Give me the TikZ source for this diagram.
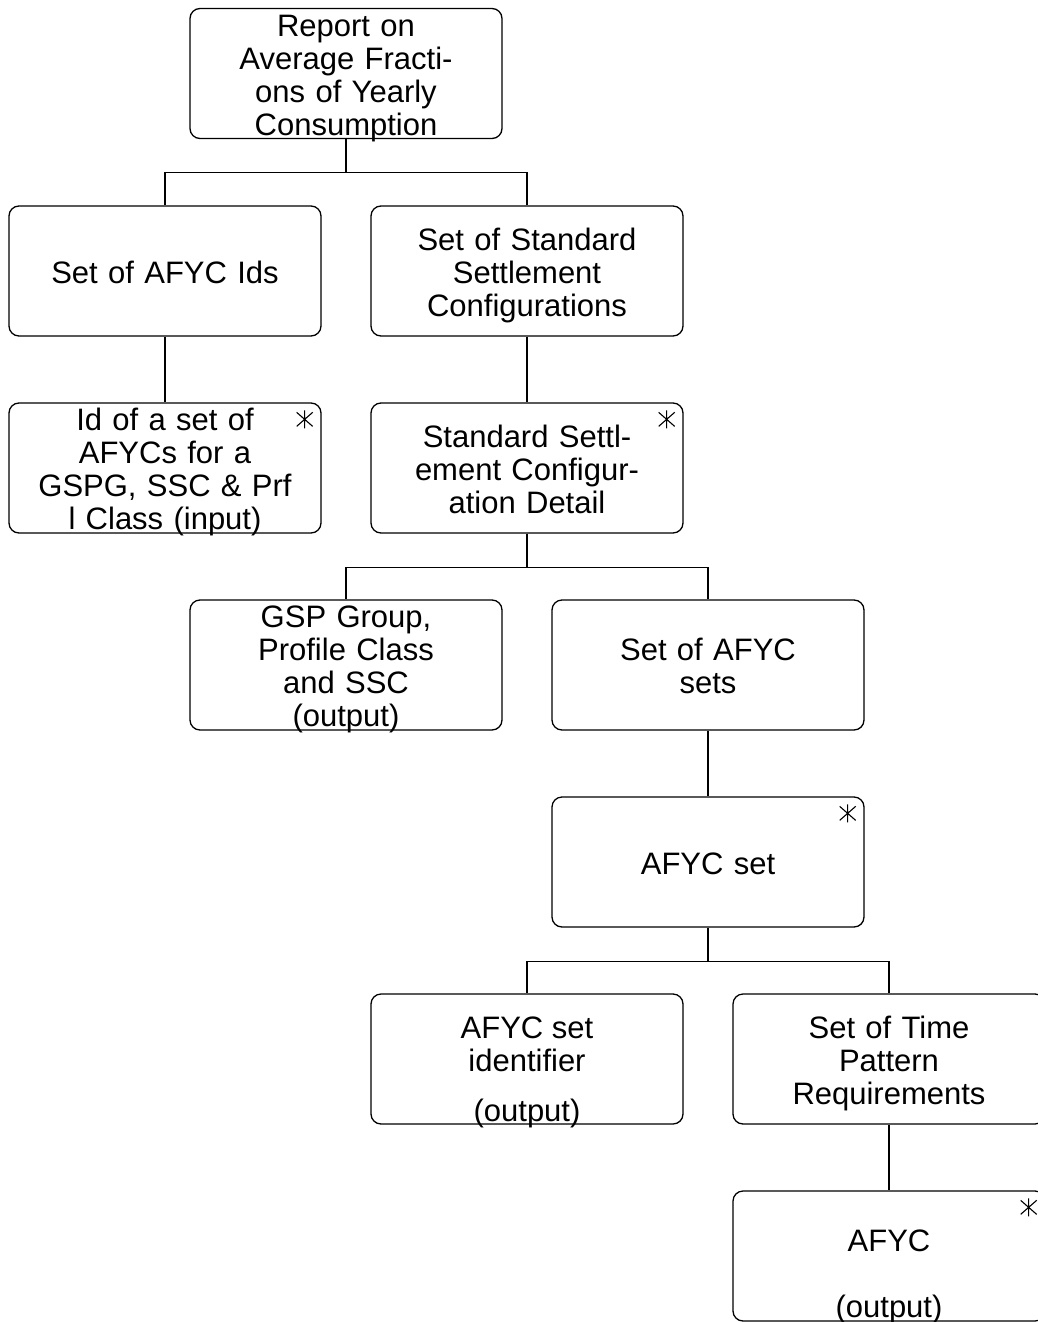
\documentclass[tikz,border=0pt]{standalone}
\usepackage{fontspec}
\setmainfont{Liberation Sans}
\usetikzlibrary{positioning, calc}

\begin{document}
\begin{tikzpicture}[
    x=0.5pt, y=-0.5pt,
    txt/.style={
        align=center, font=\fontsize{15.5pt}{16.5pt}\selectfont,
        execute at begin node={\rule{0pt}{15.6pt}},
        execute at end node={\rule[-3.5pt]{0pt}{3.5pt}}
    },
    box/.style={
        txt, draw=black, fill=white, rounded corners=5pt, line width=0.65pt,
        minimum width=156pt, minimum height=65pt,
        inner xsep=0pt, inner ysep=-2pt, text width=150pt
    },
    boxtext/.style={txt, inner sep=0pt},
    link/.style={draw=black, line width=0.65pt},
    iter/.style={draw=black, line width=0.55pt}
]

% ===== frame (picture is cut off at right and bottom) =====
\useasboundingbox (0,0) rectangle (1038,1322);
\clip (0,0) rectangle (1038,1322);

% ===== Boxes =====
\node[box] (rep) at (346, 73.5) {Report on\\Average Fracti-\\ons of Yearly\\Consumption};

\node[box] (ids) at (165, 271) {Set of AFYC Ids};
\node[box] (ssc) at (527, 271) {Set of Standard\\Settlement\\Configurations};

\node[box] (idin) at (165, 468) {Id of a set of\\AFYCs for a\\GSPG, SSC \& Prf\\l Class (input)};
\node[box] (sscd) at (527, 468) {Standard Settl-\\ement Configur-\\ation Detail};

\node[box] (gsp) at (346, 665) {GSP Group,\\Profile Class\\and SSC\\(output)};
\node[box] (afs) at (708, 665) {Set of AFYC\\sets};

\node[box] (aset) at (708, 862) {AFYC set};

\node[box] (asid) at (527, 1059) {};
\node[boxtext] (asid-t) at ([yshift=-6.75pt]asid.center) {AFYC set\\identifier\\[8.5pt](output)};
\node[box] (tpr) at (889, 1059) {Set of Time\\Pattern\\Requirements};

\node[box] (afyc) at (889, 1256) {};
\node[boxtext] (afyc-t) at ([yshift=-10.5pt]afyc.center) {AFYC\\[16.5pt](output)};

% ===== Tree connectors =====
\foreach \p/\c in {rep/ids, rep/ssc, ids/idin, ssc/sscd, sscd/gsp, sscd/afs,
                   afs/aset, aset/asid, aset/tpr, tpr/afyc} {
    \draw[link] (\p.south) -- ++(0,33.5) -| (\c.north);
}

% ===== Iteration marks =====
\foreach \n in {idin, sscd, aset, afyc} {
    \coordinate (s-\n) at ([shift={(-17,17)}]\n.north east);
    \draw[iter] (s-\n) +(0,-9) -- +(0,9)
                (s-\n) +(-8,-7) -- +(8,7)
                (s-\n) +(-8,7) -- +(8,-7);
}

\end{tikzpicture}
\end{document}
